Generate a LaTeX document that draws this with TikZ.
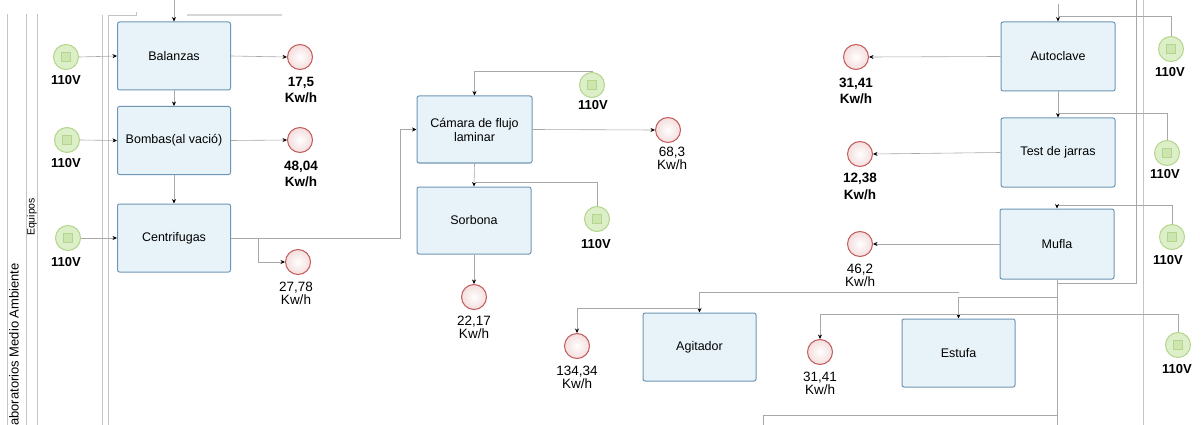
\documentclass[tikz,border=0pt]{standalone}
\usepackage{fontspec}
\setmainfont{Liberation Sans}
\usetikzlibrary{arrows.meta}
\definecolor{boxfill}{HTML}{E8F3F9}
\definecolor{boxline}{HTML}{6E96B4}
\definecolor{gfill}{HTML}{DDEFC9}
\definecolor{gline}{HTML}{B3D68C}
\definecolor{ginner}{HTML}{CDE5AE}
\definecolor{rfill}{HTML}{F4DDDD}
\definecolor{rline}{HTML}{C25A5A}
\definecolor{conn}{HTML}{A8A8A8}
\definecolor{lane}{HTML}{C4C4C4}
\begin{document}
\begin{tikzpicture}[x=1pt,y=-1pt,
  task/.style={draw=boxline, fill=boxfill, line width=1pt, rounded corners=2pt,
    minimum width=113pt, minimum height=68pt, align=center, inner sep=2pt,
    font=\fontsize{12.5}{14}\selectfont},
  src/.style={circle, draw=gline, fill=gfill, line width=1pt, minimum size=25pt, inner sep=0pt,
    path picture={\draw[gline, fill=ginner, line width=0.5pt]
      ([xshift=-4.5pt,yshift=-4.5pt]path picture bounding box.center) rectangle
      ([xshift=4.5pt,yshift=4.5pt]path picture bounding box.center);}},
  snk/.style={circle, draw=rline, line width=1pt, minimum size=25pt, inner sep=0pt,
    inner color=white, outer color=rfill},
  volt/.style={font=\fontsize{13}{15}\selectfont\bfseries},
  kwb/.style={align=center, font=\fontsize{13.5}{16.5}\selectfont\bfseries},
  kwr/.style={align=center, font=\fontsize{13.5}{13}\selectfont},
  flow/.style={draw=conn, line width=0.6pt, -{Stealth[length=4.5pt,width=4pt,color=black]}},
  wire/.style={draw=conn, line width=0.6pt},
  laneline/.style={draw=lane, line width=0.7pt}]
\useasboundingbox[fill=white] (0,0) rectangle (1202,425);

% lane lines and titles
\coordinate (L1t) at (7,14);   \coordinate (L1b) at (7,425);
\coordinate (L2t) at (26,14);  \coordinate (L2b) at (26,425);
\coordinate (L3t) at (37,14);  \coordinate (L3b) at (37,425);
\coordinate (L4t) at (102,15); \coordinate (L4b) at (102,425);
\coordinate (L5t) at (108,15); \coordinate (L5b) at (108,425);
\coordinate (L5c) at (136,15); \coordinate (L5d) at (136,12);
\draw[laneline] (L1t) -- (L1b);
\draw[laneline] (L2t) -- (L2b);
\draw[laneline] (L3t) -- (L3b);
\draw[laneline] (L4t) -- (L4b);
\draw[laneline] (L5b) -- (L5t) -- (L5c) -- (L5d);
\coordinate (sm1) at (187,15); \coordinate (sm2) at (282,15);
\draw[draw=lane!70, line width=1.5pt] (sm1) -- (sm2);
\node[rotate=90, anchor=east, inner sep=0pt, font=\fontsize{13}{15}\selectfont] (lab) at (14,263) {aboratorios Medio Ambiente};
\node[rotate=90, inner sep=0pt, font=\fontsize{10.5}{12}\selectfont] (equ) at (32,217) {Equipos};

% left column
\node[task] (bal) at (174,56) {Balanzas};
\node[task] (bom) at (174,140.5) {Bombas(al vació)};
\node[task] (cen) at (174,238) {Centrifugas};
\node[src] (g1) at (66,57) {};
\node[src] (g2) at (67,140) {};
\node[src] (g3) at (68,238) {};
\node[volt] (v1) at (66,80) {110V};
\node[volt] (v2) at (66,163) {110V};
\node[volt] (v3) at (66,262) {110V};
\node[snk] (r1) at (300,57) {};
\node[snk] (r2) at (300,140) {};
\node[snk] (r3) at (298,262) {};
\node[kwb] (l1) at (301,90) {17,5\\Kw/h};
\node[kwb] (l2) at (301,174) {48,04\\Kw/h};
\node[kwr] (l3) at (296,293) {27,78\\Kw/h};

\coordinate (topb) at (174,0);
\draw[flow] (topb) -- (bal.north);
\draw[flow] (bal.south) -- (bom.north);
\draw[flow] (bom.south) -- (cen.north);
\draw[flow] (g1.east) -- (bal.west);
\draw[flow] (g2.east) -- (bom.west);
\draw[flow] (g3.east) -- (cen.west);
\draw[flow] (bal.east) -- (r1.west);
\draw[flow] (bom.east) -- (r2.west);

% middle column
\node[task, minimum width=115pt, minimum height=67pt] (cam) at (474.5,129.5) {Cámara de flujo\\laminar};
\node[task, minimum width=114pt, minimum height=67pt] (sor) at (474,220.5) {Sorbona};
\node[src] (gc) at (592,85) {};
\node[src] (gs) at (597,219) {};
\node[volt] (vc) at (593,105) {110V};
\node[volt] (vs) at (596,244) {110V};
\node[snk] (rc) at (668,130) {};
\node[snk] (rs) at (474,297) {};
\node[kwr] (lc) at (672,158.5) {68,3\\Kw/h};
\node[kwr] (ls) at (474,327) {22,17\\Kw/h};

\coordinate (j1) at (258,238);
\coordinate (k1) at (400,238);
\draw[flow] (cen.east) -- (k1) |- (cam.west);
\draw[flow] (j1) |- (r3.west);
\coordinate (c1) at (474.5,71);
\draw[flow] (gc.north) |- (c1) -- (cam.north);
\draw[flow] (cam.east) -- (rc.west);
\coordinate (c2) at (474.5,182);
\draw[flow] (cam.south) -- (sor.north);
\draw[wire] (gs.north) |- (c2);
\draw[flow] (sor.south) -- (rs.north);

% right column
\node[task, minimum width=114pt, minimum height=69pt] (aut) at (1058,56.5) {Autoclave};
\node[task, minimum width=114pt, minimum height=69pt] (tes) at (1058,152.5) {Test de jarras};
\node[task, minimum width=114pt, minimum height=70pt] (muf) at (1057,244) {Mufla};
\node[src] (ga) at (1171,49) {};
\node[src] (gt) at (1167,153) {};
\node[src] (gm) at (1172,237) {};
\node[volt] (va) at (1170,72) {110V};
\node[volt] (vt) at (1165,174) {110V};
\node[volt] (vm) at (1168,260) {110V};
\node[snk] (rau) at (856,57) {};
\node[snk] (rt) at (860,154) {};
\node[snk] (rm) at (860,244) {};
\node[kwb] (lau) at (856,91) {31,41\\Kw/h};
\node[kwb] (lt) at (860,186.5) {12,38\\Kw/h};
\node[kwr] (lm) at (860,275) {46,2\\Kw/h};

% right lane lines
\coordinate (R1t) at (1136,0); \coordinate (R1b) at (1136,283);
\coordinate (R2t) at (1143,0); \coordinate (R2b) at (1143,425);
\coordinate (mb) at (1057,283);
\draw[laneline] (R2t) -- (R2b);
\draw[wire] (R1t) -- (R1b) -- (mb);

\coordinate (a0) at (1058,4);
\coordinate (a1) at (1058,16);
\draw[wire] (a0) -- (a1);
\draw[flow] (ga.north) |- (a1) -- (aut.north);
\coordinate (t1) at (1058,113);
\draw[flow] (aut.south) -- (tes.north);
\draw[wire] (gt.north) |- (t1);
\coordinate (m1) at (1057,205);
\draw[flow] (gm.north) |- (m1) -- (muf.north);
\draw[flow] (aut.west) -- (rau.east);
\draw[flow] (tes.west) -- (rt.east);
\draw[flow] (muf.west) -- (rm.east);

% bottom row
\node[task] (agi) at (699.5,347) {Agitador};
\node[task] (est) at (958.5,353) {Estufa};
\node[snk] (ra) at (577,346) {};
\node[snk] (re) at (820,352) {};
\node[src] (ge) at (1178,345) {};
\node[volt] (ve) at (1177,369) {110V};
\node[kwr] (la) at (577,377) {134,34\\Kw/h};
\node[kwr] (le) at (820,383) {31,41\\Kw/h};

\coordinate (mbot) at (1057,425);
\coordinate (m2) at (1057,297);
\coordinate (e1) at (958.5,297);
\coordinate (e2) at (958.5,292);
\coordinate (a2) at (699.5,292);
\coordinate (a3) at (699.5,308);
\coordinate (m3) at (1057,415);
\coordinate (m4) at (763,415);
\coordinate (m5) at (763,425);
\draw[wire] (muf.south) -- (mbot);
\draw[flow] (m2) -- (e1) -- (est.north);
\draw[flow] (e2) -- (a2) -- (agi.north);
\draw[flow] (a3) -| (ra.north);
\draw[wire] (m3) -- (m4) -- (m5);
\coordinate (s1) at (820,314);
\draw[flow] (ge.north) |- (s1) -- (re.north);
\end{tikzpicture}
\end{document}
